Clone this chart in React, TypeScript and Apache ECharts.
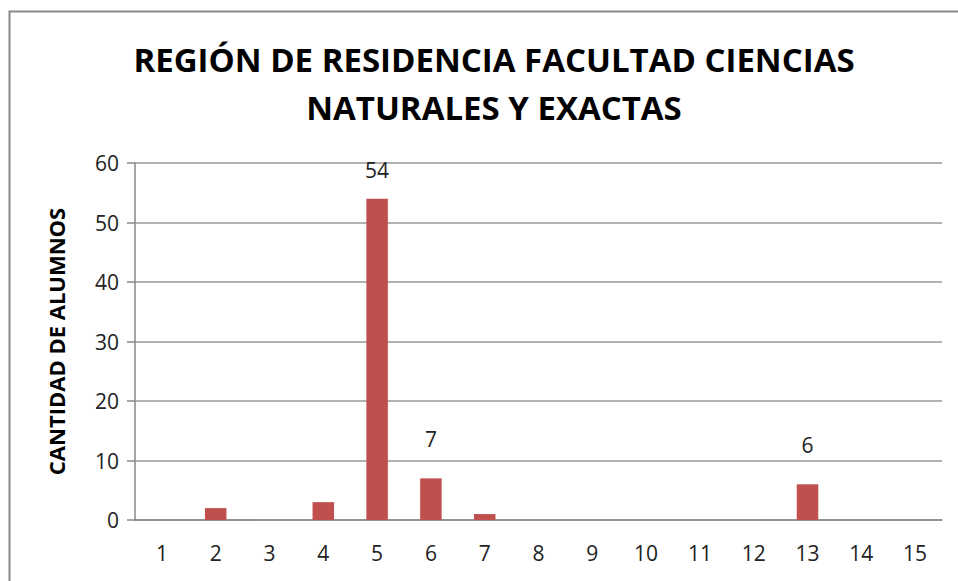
import React, { useEffect, useRef } from "react";
import * as echarts from "echarts";

const titleLines = ["REGIÓN DE RESIDENCIA FACULTAD CIENCIAS", "NATURALES Y EXACTAS"];
const yAxisName = "CANTIDAD DE ALUMNOS";
const categories = ["1", "2", "3", "4", "5", "6", "7", "8", "9", "10", "11", "12", "13", "14", "15"];
const values = [0, 2, 0, 3, 54, 7, 1, 0, 0, 0, 0, 0, 6, 0, 0];
const labeledCategories = ["5", "6", "13"];
const yTicks = [0, 10, 20, 30, 40, 50, 60];

const FONT = "'Open Sans', 'Noto Sans', sans-serif";

export default function App() {
  const ref = useRef<HTMLDivElement>(null);
  useEffect(() => {
    if (!ref.current) return;
    const chart = echarts.init(ref.current, undefined, { renderer: "svg" });
    chart.setOption({
      animation: false,
      backgroundColor: "#ffffff",
      title: {
        text: titleLines.join("\n"),
        left: 489,
        top: 30,
        textAlign: "center",
        textStyle: {
          fontFamily: FONT,
          fontWeight: "bold",
          fontSize: 33,
          lineHeight: 48,
          color: "#000",
        },
      },
      graphic: [
        {
          type: "rect",
          shape: { x: 9.5, y: 11.5, width: 960, height: 600 },
          style: { fill: "none", stroke: "#888", lineWidth: 2 },
          silent: true,
        },
      ],
      grid: { left: 135, right: 16, top: 163, bottom: 61 },
      xAxis: {
        type: "category",
        data: categories,
        axisLine: { lineStyle: { color: "#888", width: 1.5 } },
        axisTick: { show: false },
        axisLabel: { fontFamily: FONT, fontSize: 21, color: "#222", margin: 22 },
      },
      yAxis: {
        type: "value",
        min: yTicks[0],
        max: yTicks[yTicks.length - 1],
        interval: 10,
        name: yAxisName,
        nameLocation: "middle",
        nameGap: 68,
        nameTextStyle: { fontFamily: FONT, fontWeight: "bold", fontSize: 22, color: "#000" },
        axisLine: { show: true, lineStyle: { color: "#888", width: 1.5 } },
        axisTick: { show: true, length: 8, lineStyle: { color: "#888", width: 1.5 } },
        axisLabel: { fontFamily: FONT, fontSize: 21, color: "#222", margin: 16 },
        splitLine: { lineStyle: { color: "#999", width: 1.5 } },
      },
      series: [
        {
          type: "bar",
          barWidth: "40%",
          itemStyle: { color: "#C0504D" },
          data: values.map((v, i) => ({
            value: v,
            label: {
              show: labeledCategories.includes(categories[i]),
              position: "top",
              distance: v > 50 ? 18 : 29,
              fontFamily: FONT,
              fontSize: 21,
              color: "#222",
            },
          })),
        },
      ],
    });
    return () => chart.dispose();
  }, []);
  return (
    <div
      ref={ref}
      style={{ position: "absolute", left: 0, top: 0, width: 958, height: 581 }}
    />
  );
}
